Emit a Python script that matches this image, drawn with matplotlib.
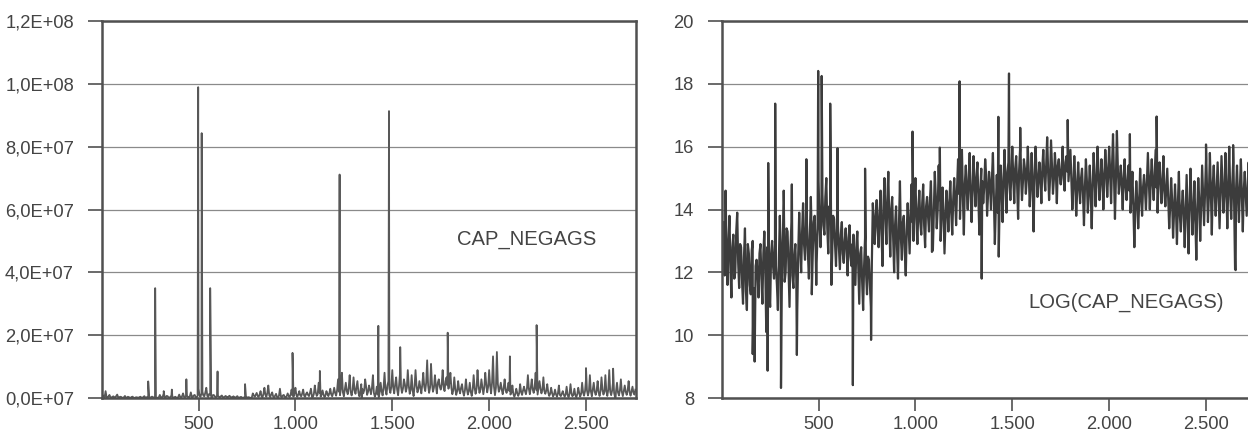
#!/usr/bin/env python3
"""CAP_NEGAGS and LOG(CAP_NEGAGS) over time, two panels side by side."""

import matplotlib
matplotlib.use("Agg")
import matplotlib.pyplot as plt
import numpy as np

log_base = [
    12.2, 13.6, 14.6, 11.6, 13.8, 11.2, 13.2, 12.0, 13.9, 11.5,
    12.8, 11.0, 13.4, 10.8, 12.6, 11.3, 13.0, 10.6, 12.4, 11.2,
    12.9, 11.0, 13.3, 10.1, 12.5, 10.9, 13.0, 11.8, 12.2, 10.8,
    13.8, 11.4, 14.2, 12.0, 13.3, 10.9, 13.6, 11.5, 12.9, 10.8,
    13.9, 12.0, 14.2, 12.4, 13.6, 11.8, 14.4, 12.6, 13.8, 12.3,
    14.9, 12.8, 14.5, 13.2, 15.0, 12.6, 13.9, 12.5, 13.7, 12.2,
    13.5, 12.1, 13.6, 12.3, 13.4, 11.9, 13.5, 12.2, 13.2, 11.6,
    13.3, 11.0, 12.8, 10.8, 13.1, 11.3, 12.4, 10.9, 14.2, 12.9,
    14.3, 12.8, 14.6, 12.2, 15.0, 12.9, 15.2, 12.5, 14.4, 12.0,
    14.1, 11.8, 14.9, 12.4, 13.8, 11.9, 14.2, 12.6, 14.8, 13.0,
    15.0, 12.9, 14.6, 13.2, 14.8, 12.8, 14.4, 13.3, 14.9, 12.7,
    15.2, 13.4, 15.4, 13.0, 14.7, 12.6, 14.6, 13.3, 14.9, 13.2,
    15.0, 13.5, 15.6, 13.7, 15.9, 13.2, 15.4, 14.0, 15.8, 13.6,
    15.7, 14.1, 15.5, 13.2, 15.3, 14.2, 15.6, 13.8, 15.2, 14.0,
    15.8, 12.9, 15.1, 12.5, 15.4, 13.6, 15.9, 13.9, 15.5, 14.3,
    16.0, 14.2, 15.7, 13.7, 15.9, 14.3, 15.6, 14.5, 16.0, 14.1,
    15.8, 13.3, 16.0, 14.4, 15.5, 14.2, 15.9, 14.6, 16.3, 14.3,
    16.2, 14.5, 15.8, 14.2, 15.6, 14.8, 16.0, 14.6, 15.7, 14.9,
    15.9, 14.0, 15.7, 13.8, 15.5, 14.2, 15.3, 13.5, 15.6, 13.9,
    15.4, 13.4, 15.8, 14.1, 16.0, 14.3, 15.6, 14.0, 15.9, 14.4,
    16.0, 14.2, 16.4, 13.7, 16.5, 14.5, 15.4, 14.0, 15.6, 14.3,
    15.4, 13.9, 15.2, 12.8, 14.9, 13.4, 15.3, 13.8, 15.1, 14.0,
    15.8, 14.0, 15.6, 14.3, 15.9, 13.9, 15.5, 14.2, 15.7, 14.1,
    15.3, 13.4, 15.0, 13.1, 14.8, 12.9, 15.2, 13.3, 14.6, 12.8,
    15.1, 12.6, 15.3, 13.2, 14.9, 12.4, 15.0, 13.0, 15.4, 13.5,
    15.6, 13.6, 15.8, 13.2, 15.4, 13.8, 15.5, 13.4, 15.7, 13.9,
    15.8, 13.4, 16.0, 13.7, 15.5, 12.1, 15.4, 13.6, 15.6, 13.3,
    15.2, 13.8, 15.5, 13.5, 15.1, 13.9,
]

# readings in between, at observations 5, 15, 25, ...
log_mid = [
    13.1, 11.9, 12.6, 13.0, 12.1, 12.8, 11.8, 13.3, 12.3, 12.9,
    11.7, 12.5, 11.4, 12.9, 11.6, 12.7, 11.5, 12.2, 11.9, 12.6,
    11.8, 12.6, 12.1, 12.8, 11.4, 12.6, 12.2, 12.9, 11.6, 12.4,
    12.5, 13.0, 11.7, 13.4, 12.1, 12.8, 11.9, 12.5, 11.8, 12.6,
    12.8, 13.3, 12.9, 13.5, 12.6, 13.2, 13.0, 13.6, 12.7, 13.4,
    13.6, 14.2, 13.5, 14.4, 13.4, 14.1, 13.2, 13.8, 12.9, 13.4,
    12.8, 13.2, 12.6, 13.0, 12.7, 13.1, 12.5, 12.9, 12.4, 12.8,
    12.1, 12.6, 11.7, 12.2, 12.0, 12.5, 11.6, 12.3, 13.6, 13.8,
    13.4, 13.9, 13.2, 14.1, 13.8, 14.3, 13.6, 14.0, 13.1, 13.5,
    12.8, 13.5, 13.1, 13.6, 12.7, 13.3, 13.4, 13.9, 13.6, 14.2,
    13.7, 14.0, 13.6, 14.2, 13.5, 14.1, 13.8, 14.3, 13.6, 14.0,
    14.4, 14.0, 14.3, 13.8, 13.9, 13.6, 14.1, 14.2, 13.9, 14.3,
    14.3, 14.7, 14.5, 14.9, 14.4, 14.8, 14.6, 15.0, 14.5, 14.7,
    14.8, 15.0, 14.4, 14.6, 14.9, 14.7, 15.1, 14.5, 14.8, 15.0,
    14.3, 14.1, 13.9, 14.4, 14.6, 15.0, 14.8, 15.2, 14.9, 15.1,
    15.0, 15.3, 14.8, 15.2, 15.1, 14.9, 15.3, 15.0, 15.2, 14.8,
    14.7, 15.1, 15.2, 14.9, 15.0, 15.3, 15.1, 15.4, 15.2, 15.0,
    15.3, 15.0, 15.2, 15.4, 15.1, 15.3, 15.0, 15.5, 15.2, 15.4,
    15.0, 14.7, 14.9, 14.6, 14.8, 15.0, 14.5, 14.7, 14.9, 14.6,
    14.5, 14.8, 15.0, 14.9, 15.2, 14.8, 15.1, 15.0, 15.3, 15.1,
    15.2, 15.4, 15.1, 15.0, 15.3, 14.9, 14.8, 15.0, 14.7, 14.9,
    14.6, 14.4, 14.1, 14.0, 14.3, 14.2, 14.5, 14.7, 14.6, 14.9,
    14.9, 15.0, 14.8, 15.1, 14.7, 15.0, 14.9, 14.8, 14.6, 14.7,
    14.4, 14.1, 14.3, 13.9, 14.0, 14.2, 13.8, 14.1, 13.9, 14.0,
    13.8, 14.1, 14.2, 13.9, 13.7, 14.0, 14.3, 14.1, 14.4, 14.6,
    14.7, 14.5, 14.6, 14.8, 14.5, 14.7, 14.4, 14.6, 14.8, 14.5,
    14.6, 14.8, 14.5, 14.7, 14.3, 14.6, 14.4, 14.7, 14.5, 14.6,
    14.5, 14.7, 14.4, 14.6, 14.3, 14.8,
]

# single-observation spikes (position, log value)
spike_x = [160, 170, 237, 240, 276, 306, 320, 362, 388, 437, 465, 488,
           498, 516, 560, 566, 598, 677, 740, 771, 985, 1085, 1126, 1228,
           1342, 1428, 1483, 1541, 1786, 2107, 2245, 2500, 2640, 2653]
spike_val = [9.4, 9.16, 8.87, 15.48, 17.37, 8.32, 14.6, 14.8, 9.37, 15.6, 11.3, 11.6,
             18.41, 18.25, 17.37, 11.6, 15.95, 8.41, 15.3, 9.85, 16.48, 12.65, 15.97, 18.08,
             11.8, 16.95, 18.33, 16.6, 16.85, 16.4, 16.96, 16.07, 16.05, 12.07]

left_ticks = [0, 2e7, 4e7, 6e7, 8e7, 1e8, 1.2e8]
left_labels = ["0,0E+07", "2,0E+07", "4,0E+07", "6,0E+07", "8,0E+07", "1,0E+08", "1,2E+08"]
right_ticks = [8, 10, 12, 14, 16, 18, 20]
x_ticks = [500, 1000, 1500, 2000, 2500]
x_labels = ["500", "1.000", "1.500", "2.000", "2.500"]

plt.rcParams["font.family"] = ["Liberation Sans", "DejaVu Sans"]

TXT = "#444444"
SPINE = "#505050"
GRID = "#8a8a8a"


def style(ax, ticks, labels, ylim):
    ax.set_xlim(0, 2758)
    ax.set_ylim(*ylim)
    ax.set_yticks(ticks)
    ax.set_yticklabels(labels)
    ax.set_xticks(x_ticks)
    ax.set_xticklabels(x_labels)
    ax.grid(axis="y", color=GRID, linewidth=0.9)
    ax.set_axisbelow(True)
    for s in ax.spines.values():
        s.set_color(SPINE)
        s.set_linewidth(1.8)
    ax.tick_params(axis="y", direction="out", length=10, width=1.2, pad=10,
                   colors=SPINE, labelcolor=TXT, labelsize=13.2)
    ax.tick_params(axis="x", direction="out", length=9, width=1.2, pad=4,
                   colors=SPINE, labelcolor=TXT, labelsize=13.2)


def main() -> None:
    n = len(log_base)
    x = np.concatenate([np.arange(n) * 10, np.arange(len(log_mid)) * 10 + 5, spike_x])
    y = np.concatenate([log_base, log_mid, spike_val])
    order = np.argsort(x, kind="stable")
    x, y = x[order], y[order]

    fig = plt.figure(figsize=(12.48, 4.33), dpi=100)
    ax1 = fig.add_axes([0.0815, 0.0808, 0.4281, 0.8707])
    ax2 = fig.add_axes([0.5783, 0.0808, 0.4281, 0.8707])

    ax1.plot(x, np.exp(y), color="#585858", linewidth=1.3)
    style(ax1, left_ticks, left_labels, (0, 1.2e8))
    ax1.text(2195, 5.06e7, "CAP_NEGAGS", ha="center", va="center",
             fontsize=14.6, color=TXT)

    ax2.plot(x, y, color="#3c3c3c", linewidth=1.6)
    style(ax2, right_ticks, [str(t) for t in right_ticks], (8, 20))
    ax2.text(2089, 11.03, "LOG(CAP_NEGAGS)", ha="center", va="center",
             fontsize=14.6, color=TXT)

    fig.savefig("out.png", dpi=100)
    plt.close(fig)


if __name__ == "__main__":
    main()
